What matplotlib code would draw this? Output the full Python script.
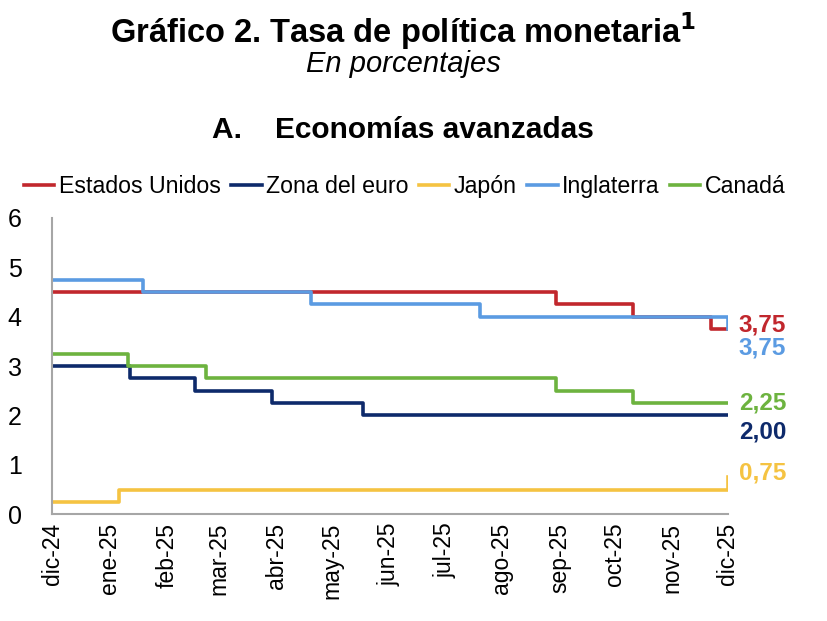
import matplotlib
matplotlib.use('Agg')
import matplotlib.pyplot as plt
import pandas as pd

plt.rcParams['font.family'] = ['Liberation Sans', 'DejaVu Sans']

# fechas de cambio de tasa y nivel vigente desde esa fecha
us_dates = ['2024-12-19', '2025-09-17', '2025-10-29', '2025-12-10', '2025-12-19']
us_rates = [4.50, 4.25, 4.00, 3.75, 3.75]

eu_dates = ['2024-12-19', '2025-01-30', '2025-03-06', '2025-04-17', '2025-06-05', '2025-12-19']
eu_rates = [3.00, 2.75, 2.50, 2.25, 2.00, 2.00]

jp_dates = ['2024-12-19', '2025-01-24', '2025-12-18', '2025-12-19']
jp_rates = [0.25, 0.50, 0.50, 0.75]

uk_dates = ['2024-12-19', '2025-02-06', '2025-05-08', '2025-08-07', '2025-12-18', '2025-12-19']
uk_rates = [4.75, 4.50, 4.25, 4.00, 4.00, 3.75]

ca_dates = ['2024-12-19', '2025-01-29', '2025-03-12', '2025-09-17', '2025-10-29', '2025-12-19']
ca_rates = [3.25, 3.00, 2.75, 2.50, 2.25, 2.25]

tick_labels = ['dic-24', 'ene-25', 'feb-25', 'mar-25', 'abr-25', 'may-25', 'jun-25',
               'jul-25', 'ago-25', 'sep-25', 'oct-25', 'nov-25', 'dic-25']

series = [
    ('Estados Unidos', us_dates, us_rates, '#C1272D'),
    ('Zona del euro', eu_dates, eu_rates, '#0E2A6B'),
    ('Japón', jp_dates, jp_rates, '#F5C342'),
    ('Inglaterra', uk_dates, uk_rates, '#5B9BE2'),
    ('Canadá', ca_dates, ca_rates, '#6DB33F'),
]

# etiquetas del último dato: (serie, desplazamiento vertical en puntos)
end_labels = [('Estados Unidos', 3), ('Inglaterra', -14), ('Canadá', 0),
              ('Zona del euro', -12), ('Japón', 3)]

fig = plt.figure(figsize=(8.28, 6.21), dpi=100)
ax = fig.add_axes([0.063, 0.172, 0.816, 0.477])

for name, d, r, c in series:
    ax.plot(pd.to_datetime(d), r, drawstyle='steps-post', color=c, lw=2.6, label=name)

start = pd.Timestamp('2024-12-19')
ticks = [start + pd.DateOffset(months=i) for i in range(13)]
ax.set_xlim(ticks[0], ticks[-1])
ax.set_xticks(ticks)
ax.set_xticklabels(tick_labels, rotation=90, fontsize=16.5)
ax.set_ylim(0, 6)
ax.set_yticks(range(0, 7))
ax.tick_params(axis='y', labelsize=18, length=0, pad=22)
ax.tick_params(axis='x', length=0, pad=6)

for s in ['top', 'right']:
    ax.spines[s].set_visible(False)
for s in ['left', 'bottom']:
    ax.spines[s].set_color('#A6A6A6')
    ax.spines[s].set_linewidth(1.5)

lookup = {name: (d, r, c) for name, d, r, c in series}
for name, dy in end_labels:
    d, r, c = lookup[name]
    ax.annotate(f'{r[-1]:.2f}'.replace('.', ','), xy=(pd.Timestamp(d[-1]), r[-1]),
                xytext=(8, dy), textcoords='offset points', color=c,
                fontsize=17.5, fontweight='bold', va='center', ha='left',
                annotation_clip=False)

fig.legend(loc='center', bbox_to_anchor=(0.489, 0.70), ncol=5, frameon=False,
           fontsize=16.7, handlelength=1.3, handletextpad=0.2, columnspacing=0.45)

fig.text(0.487, 0.95, 'Gráfico 2. Tasa de política monetaria$^{\\mathbf{1}}$', ha='center',
         va='center', fontsize=23.5, fontweight='bold')
fig.text(0.487, 0.897, 'En porcentajes', ha='center', va='center', fontsize=21, style='italic')
fig.text(0.487, 0.79, 'A.    Economías avanzadas', ha='center', va='center',
         fontsize=21.5, fontweight='bold')

fig.savefig('out.png', dpi=100)
